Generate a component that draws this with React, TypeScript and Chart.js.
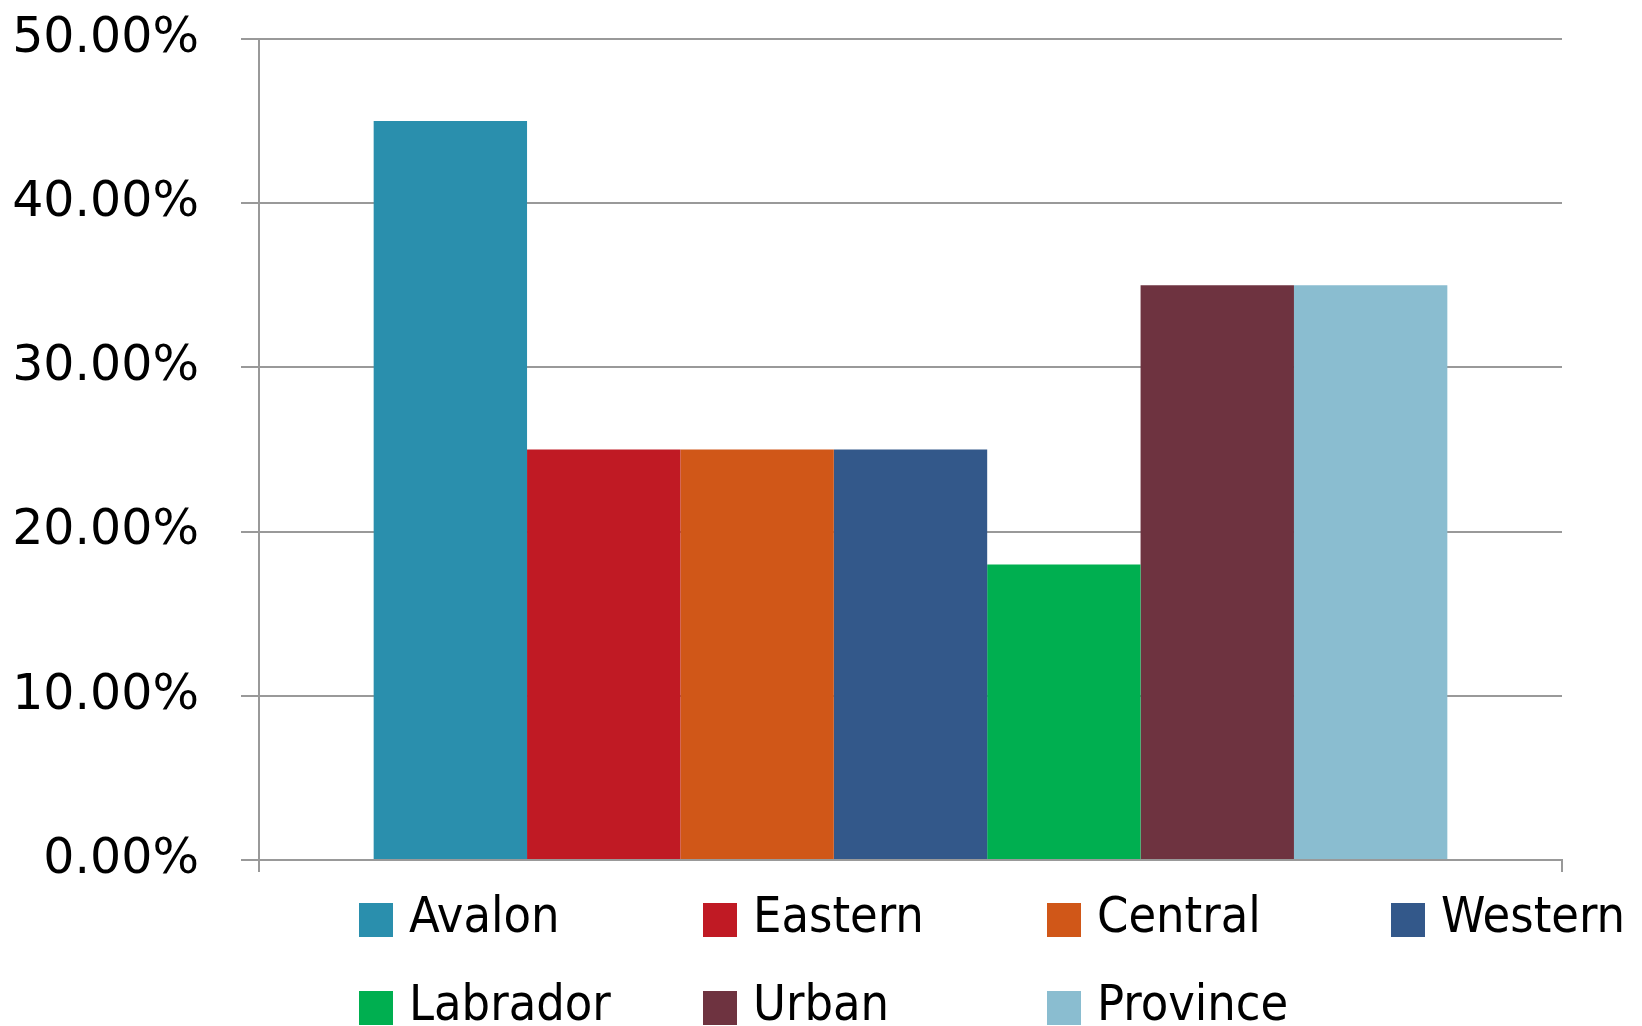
import React, { useEffect, useRef } from "react";
import { Chart, registerables } from "chart.js";

Chart.register(...registerables);

const categories = [""];
const seriesNames = ["Avalon", "Eastern", "Central", "Western", "Labrador", "Urban", "Province"];
const seriesValues = [45, 25, 25, 25, 18, 35, 35];
const seriesColors = ["#2A8FAD", "#C01A24", "#D05718", "#33588A", "#00AF50", "#6E3340", "#8ABDD0"];
const yTicks = [0, 10, 20, 30, 40, 50];

const gridLegend = {
  id: "gridLegend",
  afterDraw(chart: any) {
    const ctx = chart.ctx;
    ctx.save();
    ctx.font = '50px "DejaVu Sans Condensed", "DejaVu Sans"';
    ctx.textBaseline = "alphabetic";
    ctx.textAlign = "left";
    chart.data.datasets.forEach((ds: any, i: number) => {
      const col = i % 4;
      const row = Math.floor(i / 4);
      const x = 359 + col * 344;
      const y = 903 + row * 88;
      ctx.fillStyle = ds.backgroundColor;
      ctx.fillRect(x, y, 34, 34);
      ctx.fillStyle = "#000";
      ctx.fillText(ds.label, x + 50, y + 29);
    });
    ctx.restore();
  },
};

export default function App() {
  const ref = useRef<HTMLCanvasElement>(null);
  useEffect(() => {
    if (!ref.current) return;
    const chart = new Chart(ref.current, {
      type: "bar",
      data: {
        labels: categories,
        datasets: seriesNames.map((name, i) => ({
          label: name,
          data: [seriesValues[i]],
          backgroundColor: seriesColors[i],
          borderWidth: 0,
          categoryPercentage: 0.824,
          barPercentage: 1,
        })),
      },
      options: {
        animation: false,
        responsive: false,
        maintainAspectRatio: false,
        layout: { padding: { top: 39, right: 80, bottom: 154, left: 0 } },
        plugins: { legend: { display: false }, tooltip: { enabled: false } },
        scales: {
          x: {
            afterFit: (s: any) => { s.height = 12; },
            ticks: { display: false },
            grid: { drawOnChartArea: false, drawTicks: true, tickLength: 12, color: "#999999", lineWidth: 2 },
            border: { display: true, color: "#999999", width: 2 },
          },
          y: {
            min: 0,
            max: 50,
            afterFit: (s: any) => {
              s.width = 259;
              s.paddingTop = 0;
              s.paddingBottom = 0;
            },
            afterBuildTicks: (s: any) => { s.ticks = yTicks.map((v) => ({ value: v })); },
            ticks: {
              padding: 42,
              color: "#000",
              font: { family: '"DejaVu Sans"', size: 49 },
              callback: (v: any) => Number(v).toFixed(2) + "%",
            },
            grid: { color: "#999999", lineWidth: 2, tickLength: 18 },
            border: { display: true, color: "#999999", width: 2 },
          },
        },
      },
      plugins: [gridLegend],
    });
    return () => chart.destroy();
  }, []);
  return (
    <div style={{ position: "absolute", left: 0, top: 0, width: 1642, height: 1026, background: "#fff" }}>
      <canvas ref={ref} width={1642} height={1026} style={{ width: 1642, height: 1026, display: "block" }} />
    </div>
  );
}
